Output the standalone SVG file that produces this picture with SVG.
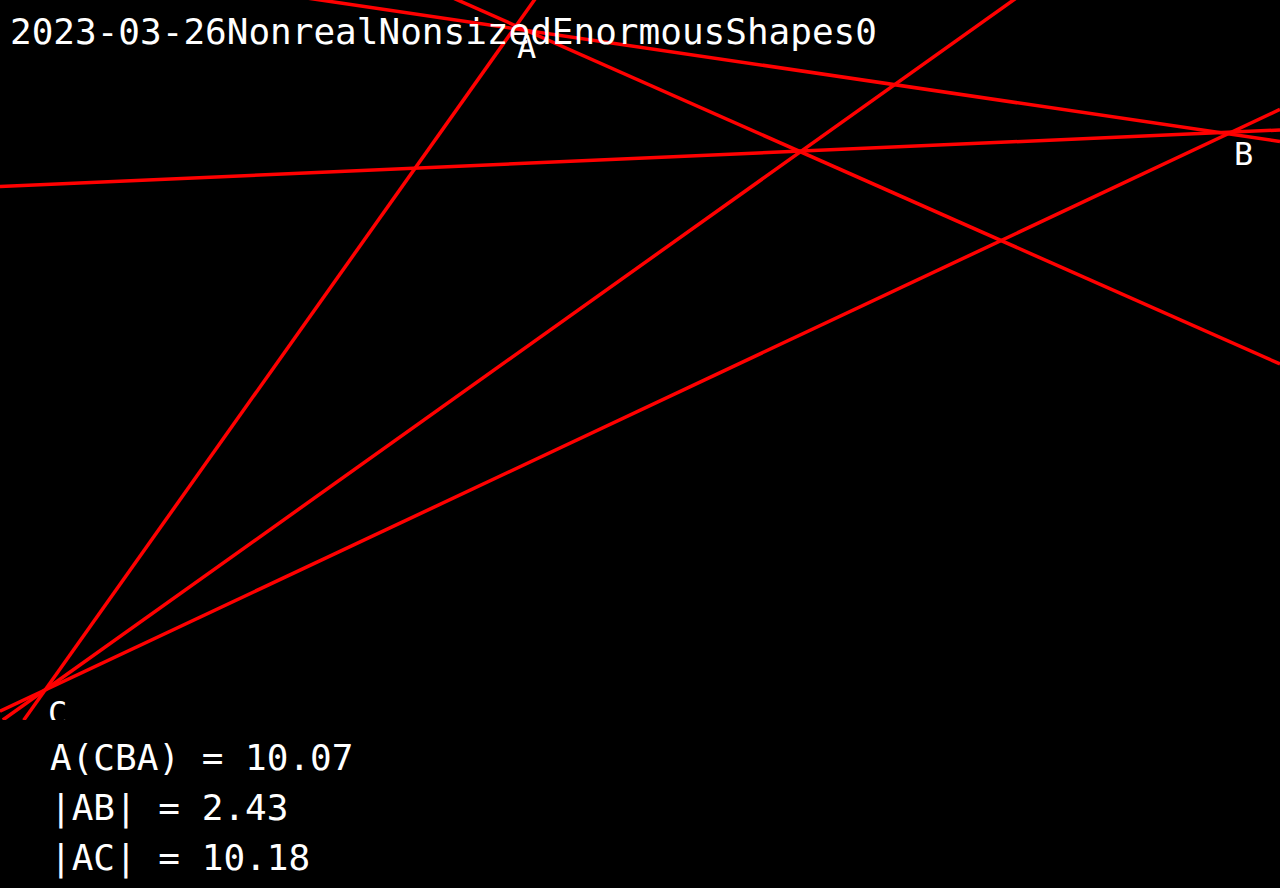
<svg xmlns="http://www.w3.org/2000/svg" width="1280" height="888" viewBox="0 0 1280 888">
<defs>
<style>
.ln{stroke:#ff0000;stroke-width:3.5;fill:none}
.t{font-family:"DejaVu Sans Mono","Liberation Mono",monospace;fill:#ffffff}
.title{font-size:36px}
.lbl{font-size:32px}
.info{font-size:36px}
</style>
<clipPath id="plot"><rect x="0" y="0" width="1280" height="720"/></clipPath>
</defs>
<rect x="0" y="0" width="1280" height="888" fill="#000000"/>
<g clip-path="url(#plot)">
<g id="connectors">
<line class="ln" x1="144" y1="-26" x2="1280" y2="141.5"/>
<line class="ln" x1="552.8" y1="-26" x2="23.7" y2="720.2"/>
<line class="ln" x1="0" y1="711.2" x2="1280" y2="109.4"/>
<line class="ln" x1="400" y1="-25.5" x2="1280" y2="364"/>
<line class="ln" x1="1050" y1="-26" x2="2.8" y2="720"/>
<line class="ln" x1="0" y1="186.5" x2="1280" y2="130"/>
</g>
<g id="node-A"><text class="t lbl" x="517" y="58">A</text></g>
<g id="node-B"><text class="t lbl" x="1234" y="165">B</text></g>
<g id="node-C"><text class="t lbl" x="48" y="724">C</text></g>
</g>
<g id="title"><text class="t title" x="10" y="44">2023-03-26NonrealNonsizedEnormousShapes0</text></g>
<g id="info">
<text class="t info" x="50" y="770">A(CBA) = 10.07</text>
<text class="t info" x="50" y="820">|AB| = 2.43</text>
<text class="t info" x="50" y="870">|AC| = 10.18</text>
</g>
</svg>
